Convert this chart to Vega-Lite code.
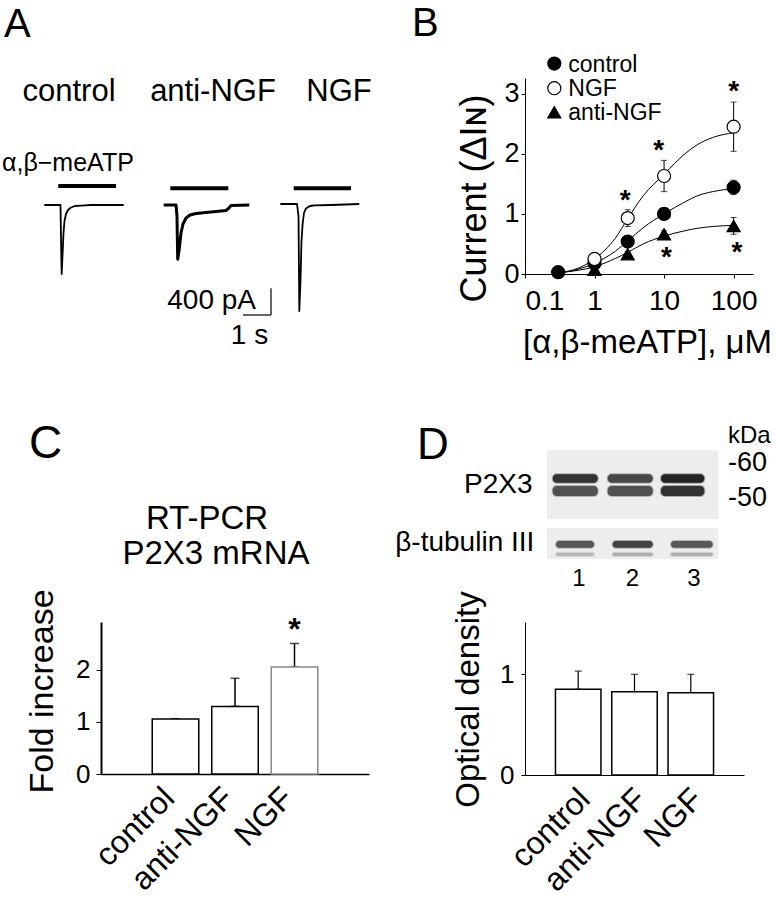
{
 "$schema": "https://vega.github.io/schema/vega-lite/v6.json",
 "background": "white",
 "padding": 0,
 "columns": 2,
 "align": "none",
 "bounds": "flush",
 "spacing": {"row": 348, "column": 156},
 "config": {
  "font": "Liberation Sans",
  "view": {"stroke": null},
  "axis": {"domainColor": "black", "tickColor": "black", "labelColor": "black", "titleColor": "black", "grid": false, "labelFont": "Liberation Sans", "titleFont": "Liberation Sans", "titleFontWeight": "normal"},
  "text": {"font": "Liberation Sans", "color": "black"}
 },
 "datasets": {
  "traces": [
   {"trace": "control", "t": -0.025, "pA": 0}, {"trace": "control", "t": 0.554, "pA": 0}, {"trace": "control", "t": 0.579, "pA": -690}, {"trace": "control", "t": 0.596, "pA": -1035}, {"trace": "control", "t": 0.625, "pA": -765}, {"trace": "control", "t": 0.661, "pA": -420}, {"trace": "control", "t": 0.696, "pA": -240}, {"trace": "control", "t": 0.75, "pA": -135}, {"trace": "control", "t": 0.821, "pA": -75}, {"trace": "control", "t": 0.929, "pA": -38}, {"trace": "control", "t": 1.071, "pA": -15}, {"trace": "control", "t": 1.286, "pA": -8}, {"trace": "control", "t": 1.643, "pA": 0}, {"trace": "control", "t": 2.811, "pA": 0},
   {"trace": "anti-NGF", "t": 4.239, "pA": 0}, {"trace": "anti-NGF", "t": 4.679, "pA": 0}, {"trace": "anti-NGF", "t": 4.714, "pA": -165}, {"trace": "anti-NGF", "t": 4.739, "pA": -815}, {"trace": "anti-NGF", "t": 4.786, "pA": -690}, {"trace": "anti-NGF", "t": 4.857, "pA": -420}, {"trace": "anti-NGF", "t": 4.929, "pA": -285}, {"trace": "anti-NGF", "t": 5.036, "pA": -195}, {"trace": "anti-NGF", "t": 5.179, "pA": -150}, {"trace": "anti-NGF", "t": 5.393, "pA": -128}, {"trace": "anti-NGF", "t": 5.929, "pA": -105}, {"trace": "anti-NGF", "t": 6.464, "pA": -83}, {"trace": "anti-NGF", "t": 6.571, "pA": -45}, {"trace": "anti-NGF", "t": 6.643, "pA": -8}, {"trace": "anti-NGF", "t": 7.296, "pA": 0},
   {"trace": "NGF", "t": 8.404, "pA": 15}, {"trace": "NGF", "t": 9.0, "pA": 15}, {"trace": "NGF", "t": 9.054, "pA": -165}, {"trace": "NGF", "t": 9.082, "pA": -1590}, {"trace": "NGF", "t": 9.125, "pA": -1140}, {"trace": "NGF", "t": 9.161, "pA": -540}, {"trace": "NGF", "t": 9.204, "pA": -270}, {"trace": "NGF", "t": 9.25, "pA": -120}, {"trace": "NGF", "t": 9.321, "pA": -52}, {"trace": "NGF", "t": 9.464, "pA": -15}, {"trace": "NGF", "t": 9.618, "pA": -5}, {"trace": "NGF", "t": 10.214, "pA": 0}, {"trace": "NGF", "t": 11.225, "pA": 15}
  ],
  "bpts": [
   {"group": "anti-NGF", "conc": 1, "value": 0.07, "err": 0.02}, {"group": "anti-NGF", "conc": 3, "value": 0.33, "err": 0.04}, {"group": "anti-NGF", "conc": 10, "value": 0.66, "err": 0.06}, {"group": "anti-NGF", "conc": 100, "value": 0.8, "err": 0.14},
   {"group": "control", "conc": 0.3, "value": 0.03, "err": 0}, {"group": "control", "conc": 1, "value": 0.18, "err": 0.02}, {"group": "control", "conc": 3, "value": 0.54, "err": 0.05}, {"group": "control", "conc": 10, "value": 1.0, "err": 0.05}, {"group": "control", "conc": 100, "value": 1.44, "err": 0.12},
   {"group": "NGF", "conc": 1, "value": 0.25, "err": 0.03}, {"group": "NGF", "conc": 3, "value": 0.93, "err": 0.14}, {"group": "NGF", "conc": 10, "value": 1.63, "err": 0.26}, {"group": "NGF", "conc": 100, "value": 2.45, "err": 0.41}
  ]
 },
 "concat": [
  {
   "width": 252, "height": 183,
   "encoding": {
    "x": {"field": "t", "type": "quantitative", "scale": {"domain": [2, 11], "nice": false, "zero": false}, "axis": null},
    "y": {"field": "pA", "type": "quantitative", "scale": {"domain": [-840, 1905], "nice": false, "zero": false}, "axis": null}
   },
   "layer": [
    {"data": {"values": [{"t": -1.571, "pA": 3060}]}, "mark": {"type": "point", "opacity": 0, "size": 1}},
    {"data": {"name": "traces"}, "transform": [{"filter": "datum.trace !== 'anti-NGF'"}],
     "mark": {"type": "line", "color": "black", "strokeWidth": 1.8, "strokeJoin": "round"},
     "encoding": {"detail": {"field": "trace"}}},
    {"data": {"name": "traces"}, "transform": [{"filter": "datum.trace === 'anti-NGF'"}],
     "mark": {"type": "line", "color": "black", "strokeWidth": 3, "strokeJoin": "round"},
     "encoding": {"detail": {"field": "trace"}}},
    {"data": {"values": [{"trace": "control", "start": 0.475, "end": 2.536, "level": 285}, {"trace": "anti-NGF", "start": 4.475, "end": 6.546, "level": 250}, {"trace": "NGF", "start": 8.882, "end": 10.929, "level": 250}]},
     "mark": {"type": "rule", "strokeWidth": 4, "color": "black"},
     "encoding": {"x": {"field": "start", "type": "quantitative"}, "x2": {"field": "end"}, "y": {"field": "level", "type": "quantitative"}}},
    {"data": {"values": [{"x0": 7.071, "x1": 8.071, "y0": -1650, "y1": -1650}, {"x0": 8.071, "x1": 8.071, "y0": -1650, "y1": -1250}]},
     "mark": {"type": "rule", "color": "black", "strokeWidth": 1.2},
     "encoding": {"x": {"field": "x0", "type": "quantitative"}, "x2": {"field": "x1"}, "y": {"field": "y0", "type": "quantitative"}, "y2": {"field": "y1"}}},
    {"data": {"values": [{"label": "A", "t": -1.464, "pA": 2520}]}, "mark": {"type": "text", "fontSize": 40, "align": "left", "baseline": "alphabetic"}, "encoding": {"text": {"field": "label"}}},
    {"data": {"values": [{"label": "control", "t": 0.857, "pA": 1560}, {"label": "anti-NGF", "t": 6.0, "pA": 1560}, {"label": "NGF", "t": 10.5, "pA": 1560}]}, "mark": {"type": "text", "fontSize": 31, "align": "center", "baseline": "alphabetic"}, "encoding": {"text": {"field": "label"}}},
    {"data": {"values": [{"label": "α,β−meATP", "t": -1.536, "pA": 510}]}, "mark": {"type": "text", "fontSize": 25, "align": "left", "baseline": "alphabetic"}, "encoding": {"text": {"field": "label"}}},
    {"data": {"values": [{"label": "400 pA", "t": 7.536, "pA": -1565}]}, "mark": {"type": "text", "fontSize": 28, "align": "right", "baseline": "alphabetic"}, "encoding": {"text": {"field": "label"}}},
    {"data": {"values": [{"label": "1 s", "t": 7.304, "pA": -2090}]}, "mark": {"type": "text", "fontSize": 28, "align": "center", "baseline": "alphabetic"}, "encoding": {"text": {"field": "label"}}}
   ]
  },
  {
   "width": 228, "height": 196,
   "encoding": {
    "x": {"field": "conc", "type": "quantitative", "scale": {"type": "log", "domain": [0.1, 190], "nice": false, "zero": false},
     "axis": {"values": [0.1, 1, 10, 100], "format": "~g", "labelFlush": true, "labelFontSize": 28, "labelPadding": 9, "tickSize": 4, "title": "[α,β-meATP], μM", "titleFontSize": 33, "titleX": 122, "titleY": 78, "titleBaseline": "alphabetic", "titleAlign": "center"}},
    "y": {"field": "value", "type": "quantitative", "scale": {"domain": [0, 3.26], "nice": false, "zero": false},
     "axis": {"values": [0, 1, 2, 3], "labelFontSize": 27, "labelPadding": 2, "tickSize": 4, "title": "Current (ΔIɴ)", "titleFontSize": 36, "titleX": -51, "titleY": 120, "titleBaseline": "middle", "titleAngle": 270}}
   },
   "layer": [
    {"data": {"values": [
      {"group": "NGF", "conc": 0.3, "value": 0.02}, {"group": "NGF", "conc": 0.5, "value": 0.07}, {"group": "NGF", "conc": 1, "value": 0.25}, {"group": "NGF", "conc": 2, "value": 0.6}, {"group": "NGF", "conc": 3, "value": 0.92}, {"group": "NGF", "conc": 5, "value": 1.3}, {"group": "NGF", "conc": 10, "value": 1.66}, {"group": "NGF", "conc": 20, "value": 2.0}, {"group": "NGF", "conc": 30, "value": 2.15}, {"group": "NGF", "conc": 50, "value": 2.27}, {"group": "NGF", "conc": 100, "value": 2.35},
      {"group": "control", "conc": 0.3, "value": 0.02}, {"group": "control", "conc": 0.5, "value": 0.06}, {"group": "control", "conc": 1, "value": 0.18}, {"group": "control", "conc": 2, "value": 0.38}, {"group": "control", "conc": 3, "value": 0.55}, {"group": "control", "conc": 5, "value": 0.77}, {"group": "control", "conc": 10, "value": 1.0}, {"group": "control", "conc": 20, "value": 1.2}, {"group": "control", "conc": 30, "value": 1.3}, {"group": "control", "conc": 50, "value": 1.37}, {"group": "control", "conc": 100, "value": 1.42},
      {"group": "anti-NGF", "conc": 0.3, "value": 0.02}, {"group": "anti-NGF", "conc": 0.5, "value": 0.05}, {"group": "anti-NGF", "conc": 1, "value": 0.12}, {"group": "anti-NGF", "conc": 2, "value": 0.26}, {"group": "anti-NGF", "conc": 3, "value": 0.36}, {"group": "anti-NGF", "conc": 5, "value": 0.5}, {"group": "anti-NGF", "conc": 10, "value": 0.63}, {"group": "anti-NGF", "conc": 20, "value": 0.72}, {"group": "anti-NGF", "conc": 30, "value": 0.76}, {"group": "anti-NGF", "conc": 50, "value": 0.79}, {"group": "anti-NGF", "conc": 100, "value": 0.81}
     ]},
     "mark": {"type": "line", "interpolate": "monotone", "color": "black", "strokeWidth": 1},
     "encoding": {"detail": {"field": "group"}}},
    {"data": {"name": "bpts"},
     "mark": {"type": "errorbar", "color": "black", "thickness": 1, "ticks": {"size": 6, "color": "black"}},
     "encoding": {"yError": {"field": "err"}}},
    {"data": {"name": "bpts"},
     "mark": {"type": "point", "size": 170, "stroke": "black", "strokeWidth": 1.2, "opacity": 1},
     "encoding": {
      "shape": {"field": "group", "type": "nominal", "scale": {"domain": ["control", "NGF", "anti-NGF"], "range": ["circle", "circle", "triangle-up"]}, "legend": null},
      "fill": {"field": "group", "type": "nominal", "scale": {"domain": ["control", "NGF", "anti-NGF"], "range": ["black", "white", "black"]}, "legend": null}
     }},
    {"data": {"values": [{"group": "control", "conc": 0.264, "value": 3.5}, {"group": "NGF", "conc": 0.264, "value": 3.09}, {"group": "anti-NGF", "conc": 0.264, "value": 2.69}]},
     "layer": [
      {"mark": {"type": "point", "size": 170, "stroke": "black", "strokeWidth": 1.2, "opacity": 1},
       "encoding": {
        "shape": {"field": "group", "type": "nominal", "legend": null},
        "fill": {"field": "group", "type": "nominal", "legend": null}
       }},
      {"mark": {"type": "text", "fontSize": 23, "align": "left", "baseline": "middle", "dx": 14, "dy": 1}, "encoding": {"text": {"field": "group"}}}
     ]},
    {"data": {"values": [{"conc": 2.77, "value": 1.36}, {"conc": 8.4, "value": 2.19}, {"conc": 100, "value": 3.17}, {"conc": 10.8, "value": 0.42}, {"conc": 112, "value": 0.5}]},
     "mark": {"type": "text", "text": "*", "fontSize": 28, "fontWeight": "bold", "baseline": "middle", "dy": 9}},
    {"data": {"values": [{"label": "B", "conc": 0.00237, "value": 3.959}]}, "mark": {"type": "text", "fontSize": 40, "align": "left", "baseline": "alphabetic"}, "encoding": {"text": {"field": "label"}}}
   ]
  },
  {
   "width": 268, "height": 152,
   "encoding": {
    "x": {"field": "group", "type": "nominal", "sort": null, "scale": {"domain": ["control", "anti-NGF", "NGF"], "paddingInner": 0.218, "paddingOuter": 0.861},
     "axis": {"title": null, "labelAngle": -45, "labelFontSize": 32, "ticks": false, "labelPadding": 8, "labelOffset": -17, "domainWidth": 1.5}},
    "y": {"field": "mean", "type": "quantitative", "scale": {"domain": [0, 2.923], "nice": false, "zero": false},
     "axis": {"values": [0, 1, 2], "format": "d", "labelFontSize": 26, "tickSize": 5, "labelPadding": 6, "title": "Fold increase", "titleFontSize": 34, "titleX": -59, "titleY": 69, "titleBaseline": "middle", "titleAngle": 270, "domainWidth": 2}}
   },
   "layer": [
    {"data": {"values": [{"group": "control", "mean": 1.06, "err": 0, "err2": 0}, {"group": "anti-NGF", "mean": 1.3, "err": 0.54, "err2": 0}, {"group": "NGF", "mean": 2.06, "err": 0.45, "err2": 0}]},
     "layer": [
      {"mark": {"type": "errorbar", "color": "black", "thickness": 1.5, "ticks": {"size": 9, "color": "black"}}, "encoding": {"yError": {"field": "err"}, "yError2": {"field": "err2"}}},
      {"mark": {"type": "bar", "fill": "white", "strokeWidth": 1.5}, "encoding": {"stroke": {"field": "group", "type": "nominal", "scale": {"domain": ["control", "anti-NGF", "NGF"], "range": ["black", "black", "#8a8a8a"]}, "legend": null}}}
     ]},
    {"data": {"values": [{"label": "*", "group": "NGF", "mean": 2.942}]}, "mark": {"type": "text", "fontSize": 32, "fontWeight": "bold", "baseline": "middle", "dy": 9}, "encoding": {"text": {"field": "label"}}},
    {"data": {"values": [{"label": "C", "group": "control", "mean": 6.077}]}, "mark": {"type": "text", "fontSize": 46, "align": "left", "baseline": "alphabetic", "dx": -146.5}, "encoding": {"text": {"field": "label"}}},
    {"data": {"values": [{"label": "RT-PCR", "group": "anti-NGF", "mean": 4.706}]}, "mark": {"type": "text", "fontSize": 33, "align": "center", "baseline": "alphabetic", "dx": -28}, "encoding": {"text": {"field": "label"}}},
    {"data": {"values": [{"label": "P2X3 mRNA", "group": "anti-NGF", "mean": 4.033}]}, "mark": {"type": "text", "fontSize": 33, "align": "center", "baseline": "alphabetic", "dx": -19}, "encoding": {"text": {"field": "label"}}}
   ]
  },
  {
   "width": 219, "height": 153,
   "resolve": {"scale": {"x": "independent", "y": "independent"}},
   "layer": [
    {
     "data": {"values": [{"group": "control", "mean": 0.849, "err": 0.18, "err2": 0}, {"group": "anti-NGF", "mean": 0.825, "err": 0.172, "err2": 0}, {"group": "NGF", "mean": 0.815, "err": 0.182, "err2": 0}]},
     "encoding": {
      "x": {"field": "group", "type": "nominal", "sort": null, "scale": {"domain": ["control", "anti-NGF", "NGF"], "paddingInner": 0.192, "paddingOuter": 0.541},
       "axis": {"title": null, "labelAngle": -45, "labelFontSize": 32, "ticks": false, "labelPadding": 8, "labelOffset": -4}},
      "y": {"field": "mean", "type": "quantitative", "scale": {"domain": [0, 1.515], "nice": false, "zero": false},
       "axis": {"values": [0, 1], "format": "d", "labelFontSize": 26, "tickSize": 4, "labelPadding": 7, "title": "Optical density", "titleFontSize": 33, "titleX": -57, "titleY": 77, "titleBaseline": "middle", "titleAngle": 270}}
     },
     "layer": [
      {"mark": {"type": "errorbar", "color": "black", "thickness": 1.2, "ticks": {"size": 7, "color": "black"}}, "encoding": {"yError": {"field": "err"}, "yError2": {"field": "err2"}}},
      {"mark": {"type": "bar", "fill": "white", "stroke": "black", "strokeWidth": 1.5}}
     ]
    },
    {
     "encoding": {
      "x": {"field": "x1", "type": "quantitative", "scale": {"domain": [0.0609, 3.8696], "nice": false, "zero": false}, "axis": null},
      "y": {"field": "y1", "type": "quantitative", "scale": {"domain": [-29.43, 14.29], "nice": false, "zero": false}, "axis": null}
     },
     "layer": [
      {"data": {"values": [{"strip": "P2X3", "x1": 0.443, "x2": 3.423, "y1": 43.63, "y2": 63.34}, {"strip": "tubulin", "x1": 0.443, "x2": 3.423, "y1": 32.2, "y2": 41.06}]},
       "mark": {"type": "rect", "fill": "#ededed"},
       "encoding": {"x2": {"field": "x2"}, "y2": {"field": "y2"}}},
      {"data": {"values": [
        {"lane": 1, "band": "P2X3 upper", "x1": 0.543, "x2": 1.326, "y1": 54.09, "y2": 56.49, "intensity": 0.9},
        {"lane": 2, "band": "P2X3 upper", "x1": 1.499, "x2": 2.282, "y1": 54.09, "y2": 56.49, "intensity": 0.8},
        {"lane": 3, "band": "P2X3 upper", "x1": 2.426, "x2": 3.179, "y1": 54.09, "y2": 56.49, "intensity": 0.97},
        {"lane": 1, "band": "P2X3 lower", "x1": 0.543, "x2": 1.326, "y1": 50.29, "y2": 53.14, "intensity": 0.75},
        {"lane": 2, "band": "P2X3 lower", "x1": 1.499, "x2": 2.282, "y1": 50.29, "y2": 53.14, "intensity": 0.75},
        {"lane": 3, "band": "P2X3 lower", "x1": 2.426, "x2": 3.179, "y1": 50.29, "y2": 53.14, "intensity": 0.9},
        {"lane": 1, "band": "tubulin", "x1": 0.6, "x2": 1.261, "y1": 35.51, "y2": 37.43, "intensity": 0.72},
        {"lane": 2, "band": "tubulin", "x1": 1.586, "x2": 2.282, "y1": 35.51, "y2": 37.43, "intensity": 0.82},
        {"lane": 3, "band": "tubulin", "x1": 2.6, "x2": 3.325, "y1": 35.51, "y2": 37.43, "intensity": 0.72},
        {"lane": 1, "band": "tubulin faint", "x1": 0.6, "x2": 1.261, "y1": 33.14, "y2": 34.09, "intensity": 0.25},
        {"lane": 2, "band": "tubulin faint", "x1": 1.586, "x2": 2.282, "y1": 33.14, "y2": 34.09, "intensity": 0.3},
        {"lane": 3, "band": "tubulin faint", "x1": 2.6, "x2": 3.325, "y1": 33.14, "y2": 34.09, "intensity": 0.3}
       ]},
       "mark": {"type": "rect", "fill": "#1e1e1e", "stroke": "#1e1e1e", "strokeWidth": 2, "strokeOpacity": 0.35, "cornerRadius": 4},
       "encoding": {"x2": {"field": "x2"}, "y2": {"field": "y2"}, "opacity": {"field": "intensity", "type": "quantitative", "scale": {"domain": [0, 1], "range": [0, 1]}, "legend": null}}},
      {"data": {"values": [{"label": "1", "x1": 1, "y1": 24.57}, {"label": "2", "x1": 1.93, "y1": 24.57}, {"label": "3", "x1": 3.0, "y1": 24.57}]},
       "mark": {"type": "text", "fontSize": 24, "align": "center", "baseline": "alphabetic"}, "encoding": {"text": {"field": "label"}}},
      {"data": {"values": [{"label": "P2X3", "x1": 0.193, "y1": 51.23}, {"label": "β-tubulin III", "x1": 0.223, "y1": 34.57}]},
       "mark": {"type": "text", "fontSize": 28, "align": "right", "baseline": "alphabetic"}, "encoding": {"text": {"field": "label"}}},
      {"data": {"values": [{"label": "kDa", "x1": 3.591, "y1": 65.3}]},
       "mark": {"type": "text", "fontSize": 24, "align": "left", "baseline": "alphabetic"}, "encoding": {"text": {"field": "label"}}},
      {"data": {"values": [{"label": "-60", "x1": 3.591, "y1": 57.43}, {"label": "-50", "x1": 3.591, "y1": 47.43}]},
       "mark": {"type": "text", "fontSize": 27, "align": "left", "baseline": "alphabetic"}, "encoding": {"text": {"field": "label"}}},
      {"data": {"values": [{"label": "D", "x1": -1.817, "y1": 60.86}]},
       "mark": {"type": "text", "fontSize": 44, "align": "left", "baseline": "alphabetic"}, "encoding": {"text": {"field": "label"}}}
     ]
    }
   ]
  }
 ]
}
